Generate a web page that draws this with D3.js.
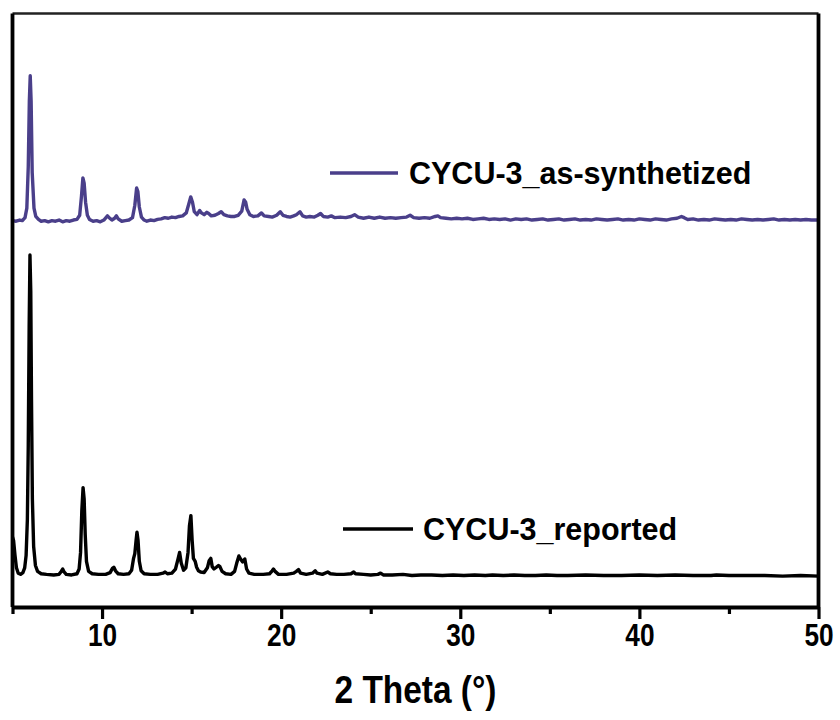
<!DOCTYPE html>
<html>
<head>
<meta charset="utf-8">
<script src="https://cdn.jsdelivr.net/npm/d3@7"></script>
<style>
  html, body { margin: 0; padding: 0; background: #fff; }
  svg { display: block; }
  .axis-text { font-family: "Liberation Sans", Arial, sans-serif; font-weight: bold; }
  .legend-text { font-family: "Liberation Sans", Arial, sans-serif; font-weight: bold; }
</style>
</head>
<body>
<svg id="chart" width="840" height="720"></svg>
<script>
// Powder XRD patterns: 2θ (degrees) and intensity above each trace's own baseline (a.u.)
const seriesNames = ["CYCU-3_as-synthetized", "CYCU-3_reported"];
const seriesColors = ["#4a3f8a", "#000000"];
const seriesOffsets = [600, 0];   // vertical stacking offset (a.u.)

const asSynthesized = [
  [5.0,-1],[5.2,-2],[5.4,0],[5.55,-1],[5.7,4],[5.8,20],[5.88,90],[5.94,200],[5.99,243],[6.04,200],
  [6.1,80],[6.2,20],[6.3,6],[6.45,1],[6.6,-2],[6.8,-1],[7.0,-3],[7.2,-1],[7.4,-2],[7.6,0],
  [7.8,-3],[8.0,-1],[8.2,-2],[8.4,0],[8.6,1],[8.75,8],[8.85,40],[8.93,71],[9.0,62],[9.08,30],
  [9.18,8],[9.3,1],[9.5,-2],[9.7,-1],[9.9,-3],[10.1,0],[10.3,7],[10.4,4],[10.55,0],[10.7,3],
  [10.8,7],[10.9,2],[11.1,-2],[11.3,-1],[11.5,0],[11.7,4],[11.83,25],[11.93,54],[12.0,48],[12.08,22],
  [12.2,5],[12.35,0],[12.5,-2],[12.7,0],[12.9,-1],[13.1,1],[13.3,2],[13.5,4],[13.7,3],[13.9,5],
  [14.1,4],[14.3,6],[14.5,7],[14.7,12],[14.85,28],[14.95,39],[15.05,30],[15.15,14],[15.3,9],[15.45,16],
  [15.55,12],[15.7,9],[15.85,13],[15.95,11],[16.1,7],[16.3,8],[16.5,11],[16.65,14],[16.8,9],[17.0,7],
  [17.2,6],[17.4,6],[17.6,8],[17.8,15],[17.93,34],[18.02,30],[18.1,18],[18.25,9],[18.45,6],[18.7,7],
  [18.9,12],[19.05,7],[19.3,6],[19.5,5],[19.75,8],[19.95,14],[20.1,8],[20.3,6],[20.5,5],[20.7,7],
  [20.85,9],[21.05,14],[21.2,7],[21.4,5],[21.6,6],[21.85,5],[22.05,8],[22.2,11],[22.35,6],[22.6,5],
  [22.8,7],[23.0,4],[23.3,5],[23.6,4],[23.9,6],[24.1,9],[24.3,5],[24.6,3],[24.9,5],[25.2,3],
  [25.5,5],[25.8,3],[26.1,4],[26.4,3],[26.7,4],[27.0,5],[27.2,8],[27.4,4],[27.7,3],[28.0,4],
  [28.3,3],[28.6,6],[28.75,7],[28.9,4],[29.2,3],[29.5,2],[29.8,3],[30.1,2],[30.4,3],[30.7,1],
  [31.0,2],[31.3,3],[31.6,1],[31.9,2],[32.2,1],[32.5,2],[32.8,0],[33.1,2],[33.4,1],[33.7,2],
  [34.0,0],[34.3,1],[34.6,2],[34.9,0],[35.2,1],[35.5,2],[35.8,0],[36.1,1],[36.4,2],[36.7,0],
  [37.0,1],[37.3,0],[37.6,2],[37.9,1],[38.2,0],[38.5,1],[38.8,2],[39.1,0],[39.4,1],[39.7,0],
  [40.0,2],[40.3,1],[40.6,0],[40.9,2],[41.2,1],[41.5,0],[41.8,2],[42.1,3],[42.35,6],[42.5,4],
  [42.7,1],[43.0,2],[43.3,0],[43.6,1],[43.9,0],[44.2,2],[44.5,1],[44.8,0],[45.1,1],[45.4,0],
  [45.7,2],[46.0,1],[46.3,0],[46.6,1],[46.9,0],[47.2,1],[47.5,2],[47.8,0],[48.1,1],[48.4,0],
  [48.7,1],[49.0,0],[49.3,1],[49.6,0],[50.0,0]
];

const reported = [
  [5.0,66],[5.06,60],[5.14,35],[5.22,14],[5.32,5],[5.45,3],[5.58,6],[5.68,14],[5.76,35],[5.83,95],
  [5.88,220],[5.93,420],[5.975,541],[6.02,480],[6.06,300],[6.11,130],[6.18,50],[6.28,18],[6.4,8],[6.6,4],
  [6.9,3],[7.3,2],[7.6,3],[7.72,8],[7.8,12],[7.88,7],[8.0,3],[8.3,2],[8.6,4],[8.72,12],
  [8.8,40],[8.87,110],[8.94,149],[9.0,130],[9.06,70],[9.13,25],[9.25,8],[9.45,4],[9.8,3],[10.2,3],
  [10.45,6],[10.58,13],[10.66,15],[10.75,9],[10.9,4],[11.2,3],[11.5,4],[11.65,10],[11.76,30],[11.83,38],
  [11.9,60],[11.95,74],[12.01,60],[12.08,25],[12.18,9],[12.35,4],[12.7,3],[13.1,3],[13.4,5],[13.52,7],
  [13.65,4],[13.9,5],[14.1,12],[14.25,30],[14.33,40],[14.42,22],[14.55,10],[14.68,14],[14.8,40],[14.88,85],
  [14.96,102],[15.03,60],[15.1,30],[15.2,25],[15.28,15],[15.38,9],[15.5,7],[15.7,6],[15.88,14],[15.98,26],
  [16.07,30],[16.15,16],[16.25,12],[16.38,15],[16.5,18],[16.58,16],[16.7,8],[16.9,4],[17.2,3],[17.4,8],
  [17.52,22],[17.64,34],[17.75,28],[17.85,24],[17.97,29],[18.07,12],[18.2,5],[18.5,3],[19.0,3],[19.35,4],
  [19.5,9],[19.57,12],[19.66,8],[19.85,3],[20.3,3],[20.7,5],[20.85,8],[20.97,11],[21.08,5],[21.4,3],
  [21.75,5],[21.9,9],[22.0,5],[22.3,3],[22.6,7],[22.75,4],[23.1,3],[23.5,3],[23.9,4],[24.05,7],
  [24.15,4],[24.6,3],[25.0,2],[25.4,3],[25.55,5],[25.7,2],[26.2,2],[26.8,3],[27.3,1],[27.8,2],
  [28.4,2],[29.0,1],[29.6,2],[30.2,1],[30.8,2],[31.4,1],[31.8,2],[32.4,1],[33.0,2],[33.6,1],
  [34.2,1],[34.8,2],[35.4,1],[36.0,1],[37.0,2],[38.0,1],[39.0,1],[40.0,2],[41.0,1],[42.0,2],
  [43.0,1],[44.0,1],[44.3,2],[45.0,1],[46.0,1],[47.0,1],[48.0,0],[49.0,1],[50.0,0]
];

const majorTicks = [10, 20, 30, 40, 50];
const minorTicks = [5, 15, 25, 35, 45];
const xLabel = "2 Theta (°)";

// ---- layout ----
const svg = d3.select("#chart");
const plot = { left: 12.5, right: 818.5, top: 13.5, bottom: 607 };
const narrow = 0.82;   // horizontal squeeze for the condensed axis lettering

const x = d3.scaleLinear().domain([5, 50]).range([plot.left, plot.right]);
// lower pattern's baseline sits ~30 px above the axis
const y = d3.scaleLinear().domain([-52, 948]).range([plot.bottom, plot.top]);

const clipId = "plot-clip";
svg.append("defs").append("clipPath").attr("id", clipId)
  .append("rect")
  .attr("x", plot.left).attr("y", plot.top)
  .attr("width", plot.right - plot.left).attr("height", plot.bottom - plot.top);

const traces = [asSynthesized, reported];
const line = d3.line().x(d => x(d[0])).y(d => y(d[1]));

traces.forEach((data, i) => {
  svg.append("path")
    .datum(data.map(d => [d[0], d[1] + seriesOffsets[i]]))
    .attr("clip-path", `url(#${clipId})`)
    .attr("fill", "none")
    .attr("stroke", seriesColors[i])
    .attr("stroke-width", 3.4)
    .attr("stroke-linejoin", "round")
    .attr("stroke-linecap", "round")
    .attr("d", line);
});

// ---- frame ----
svg.append("line")
  .attr("x1", plot.left).attr("x2", plot.right)
  .attr("y1", plot.top).attr("y2", plot.top)
  .attr("stroke", "#222").attr("stroke-width", 2.6);
svg.append("line")
  .attr("x1", plot.left).attr("x2", plot.left)
  .attr("y1", plot.top).attr("y2", plot.bottom)
  .attr("stroke", "#000").attr("stroke-width", 3.8);
svg.append("line")
  .attr("x1", plot.right).attr("x2", plot.right)
  .attr("y1", plot.top).attr("y2", plot.bottom)
  .attr("stroke", "#000").attr("stroke-width", 3.8);

// ---- x axis ----
const minorAxis = d3.axisBottom(x).tickValues(minorTicks).tickSize(7).tickFormat("");
svg.append("g")
  .attr("transform", `translate(0,${plot.bottom})`)
  .call(minorAxis)
  .call(g => g.select(".domain").remove())
  .call(g => g.selectAll(".tick line").attr("stroke", "#000").attr("stroke-width", 3.2));

const majorAxis = d3.axisBottom(x).tickValues(majorTicks).tickSize(12).tickPadding(4).tickSizeOuter(0)
  .tickFormat(d3.format("d"));
svg.append("g")
  .attr("transform", `translate(0,${plot.bottom})`)
  .attr("font-family", null)
  .call(majorAxis)
  .call(g => g.select(".domain").attr("stroke", "#000").attr("stroke-width", 3.8))
  .call(g => g.selectAll(".tick line").attr("stroke", "#000").attr("stroke-width", 3.2))
  .call(g => g.selectAll(".tick text")
    .attr("class", "axis-text")
    .attr("fill", "#000")
    .attr("font-size", 32)
    .attr("transform", `scale(${narrow},1)`));

svg.append("g")
  .attr("transform", `translate(${(plot.left + plot.right) / 2},703) scale(0.88,1)`)
  .append("text")
  .attr("class", "axis-text")
  .attr("text-anchor", "middle")
  .attr("font-size", 38)
  .attr("fill", "#000")
  .text(xLabel);

// ---- legend ----
const legendItems = [
  { x1: 330, x2: 398, y: 173, tx: 409, ty: 184 },
  { x1: 343, x2: 413, y: 529, tx: 423, ty: 540 }
];
legendItems.forEach((p, i) => {
  svg.append("line")
    .attr("x1", p.x1).attr("x2", p.x2)
    .attr("y1", p.y).attr("y2", p.y)
    .attr("stroke", seriesColors[i]).attr("stroke-width", 3.6);
  svg.append("text")
    .attr("class", "legend-text")
    .attr("x", p.tx).attr("y", p.ty)
    .attr("font-size", 30.5)
    .attr("fill", "#000")
    .text(seriesNames[i]);
});
</script>
</body>
</html>
